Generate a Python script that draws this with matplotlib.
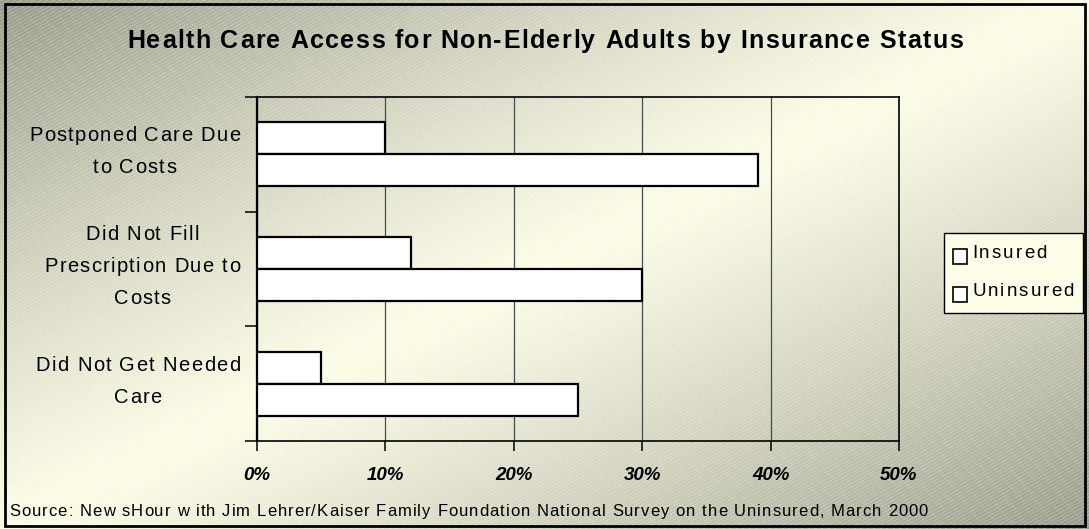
import numpy as np
import matplotlib
matplotlib.use("Agg")
import matplotlib.pyplot as plt
from matplotlib.patches import Rectangle
from matplotlib import font_manager
from matplotlib.ft2font import FT2Font

# ---- data ----
categories = ["Postponed Care Due\nto Costs",
              "Did Not Fill\nPrescription Due to\nCosts",
              "Did Not Get Needed\nCare"]
insured = [10, 12, 5]
uninsured = [39, 30, 25]
series_names = ["Insured", "Uninsured"]
x_ticks = [0, 10, 20, 30, 40, 50]
x_tick_labels = ["0%", "10%", "20%", "30%", "40%", "50%"]
title = "Health Care Access for Non-Elderly Adults by Insurance Status"
source = ("Source: New sHour w ith Jim Lehrer/Kaiser Family Foundation "
          "National Survey on the Uninsured, March 2000")

FAMILY = "Liberation Sans"
plt.rcParams["font.family"] = [FAMILY, "DejaVu Sans"]

W, H = 1089, 529
DPI = 100
fig = plt.figure(figsize=(W / DPI, H / DPI), dpi=DPI)

# ---- textured diagonal gradient background ----
yy, xx = np.mgrid[0:H, 0:W].astype(float)
t = (xx / W + yy / H) / 2.0
d = np.clip(np.abs(t - 0.5) / 0.5, 0, 1) ** 1.1
gray = np.array([154, 154, 138]) / 255.0
cream = np.array([253, 253, 231]) / 255.0
img = cream[None, None, :] + (gray - cream)[None, None, :] * d[..., None]
stripe = (np.mod(0.55 * xx + yy, 3.6) < 1.2).astype(float)
img = img + (1 - img) * 0.22 * stripe[..., None]
img = np.clip(img, 0, 1)

bg = fig.add_axes([0, 0, 1, 1], zorder=-10)
bg.imshow(img, extent=[0, W, H, 0], interpolation="nearest", aspect="auto")
bg.set_xlim(0, W)
bg.set_ylim(H, 0)
bg.axis("off")
bg.add_patch(Rectangle((5, 3.5), W - 9, H - 6.5, fill=False,
                       edgecolor="black", linewidth=2))


# ---- letter-spaced text helpers (pixel coordinates, y downwards) ----
def _advances(s, size, weight="normal"):
    fp = font_manager.FontProperties(family=FAMILY, weight=weight)
    font = FT2Font(font_manager.findfont(fp))
    font.set_size(size, DPI)
    return [font.load_char(ord(ch)).linearHoriAdvance / 65536.0 for ch in s]


def natural_width(s, size, weight="normal"):
    return sum(_advances(s, size, weight))


def spaced_width(s, size, tracking, weight="normal"):
    return natural_width(s, size, weight) + tracking * (len(s) - 1)


def spaced_text(x, baseline, s, size, tracking, weight="normal", ha="left"):
    advs = _advances(s, size, weight)
    total = sum(advs) + tracking * (len(s) - 1)
    if ha == "center":
        x = x - total / 2
    elif ha == "right":
        x = x - total
    for ch, adv in zip(s, advs):
        if ch != " ":
            bg.text(x, baseline, ch, fontsize=size, fontweight=weight,
                    ha="left", va="baseline", color="black", clip_on=False)
        x += adv + tracking


# ---- bar chart ----
left, right = 257 / W, 899 / W
bottom, top = 1 - 441 / H, 1 - 97 / H
ax = fig.add_axes([left, bottom, right - left, top - bottom])
ax.patch.set_alpha(0)

n = len(categories)
centers = np.arange(n) + 0.5
bh = 0.28
ax.barh(centers - bh / 2, insured, height=bh, color="white",
        edgecolor="black", linewidth=1.6, zorder=3)
ax.barh(centers + bh / 2, uninsured, height=bh, color="white",
        edgecolor="black", linewidth=1.6, zorder=3)

ax.set_xlim(0, 50)
ax.set_ylim(n, 0)

ax.set_xticks(x_ticks)
ax.set_xticklabels(x_tick_labels, fontsize=13.5, fontweight="bold",
                   fontstyle="italic")
ax.tick_params(axis="x", direction="out", length=7, width=1.1, pad=12)

ax.set_yticks(np.arange(n + 1))
ax.set_yticklabels([])
ax.tick_params(axis="y", direction="out", length=9, width=1.1)

ax.grid(axis="x", color="#4a4a4a", linewidth=0.9, zorder=1)
ax.set_axisbelow(True)
for s in ax.spines.values():
    s.set_color("black")
    s.set_linewidth(1.2)
ax.spines["left"].set_linewidth(1.6)

# ---- category labels (right-aligned blocks, centred lines) ----
cat_size = 14.5
cat_track = (211 - natural_width("Postponed Care Due", cat_size)) / 17
band_px = (441 - 97) / n
line_px = 32
for i, label in enumerate(categories):
    lines = label.split("\n")
    widths = [spaced_width(l, cat_size, cat_track) for l in lines]
    block_cx = 240 - max(widths) / 2
    cy = 97 + (i + 0.5) * band_px - 4
    k = len(lines)
    for j, l in enumerate(lines):
        base = cy + 7 + (j - (k - 1) / 2) * line_px
        spaced_text(block_cx, base, l, cat_size, cat_track, ha="center")

# ---- title and source ----
title_size = 18
title_track = (836 - natural_width(title, title_size, "bold")) / (len(title) - 1)
spaced_text(545, 48, title, title_size, title_track, weight="bold",
            ha="center")

src_size = 12
src_track = (919 - natural_width(source, src_size)) / (len(source) - 1)
spaced_text(9, 516, source, src_size, src_track)

# ---- legend ----
bg.add_patch(Rectangle((944, 233), 139, 80, facecolor="#fdfde8",
                       edgecolor="black", linewidth=1.0, zorder=2))
leg_size = 13.5
leg_track = (102 - natural_width("Uninsured", leg_size)) / 8
for name, sq_top, base in zip(series_names, [249, 287], [258, 296]):
    bg.add_patch(Rectangle((953, sq_top), 14, 15, facecolor="white",
                           edgecolor="black", linewidth=1.2, zorder=3))
    spaced_text(972, base, name, leg_size, leg_track)

fig.savefig("out.png", dpi=DPI)
